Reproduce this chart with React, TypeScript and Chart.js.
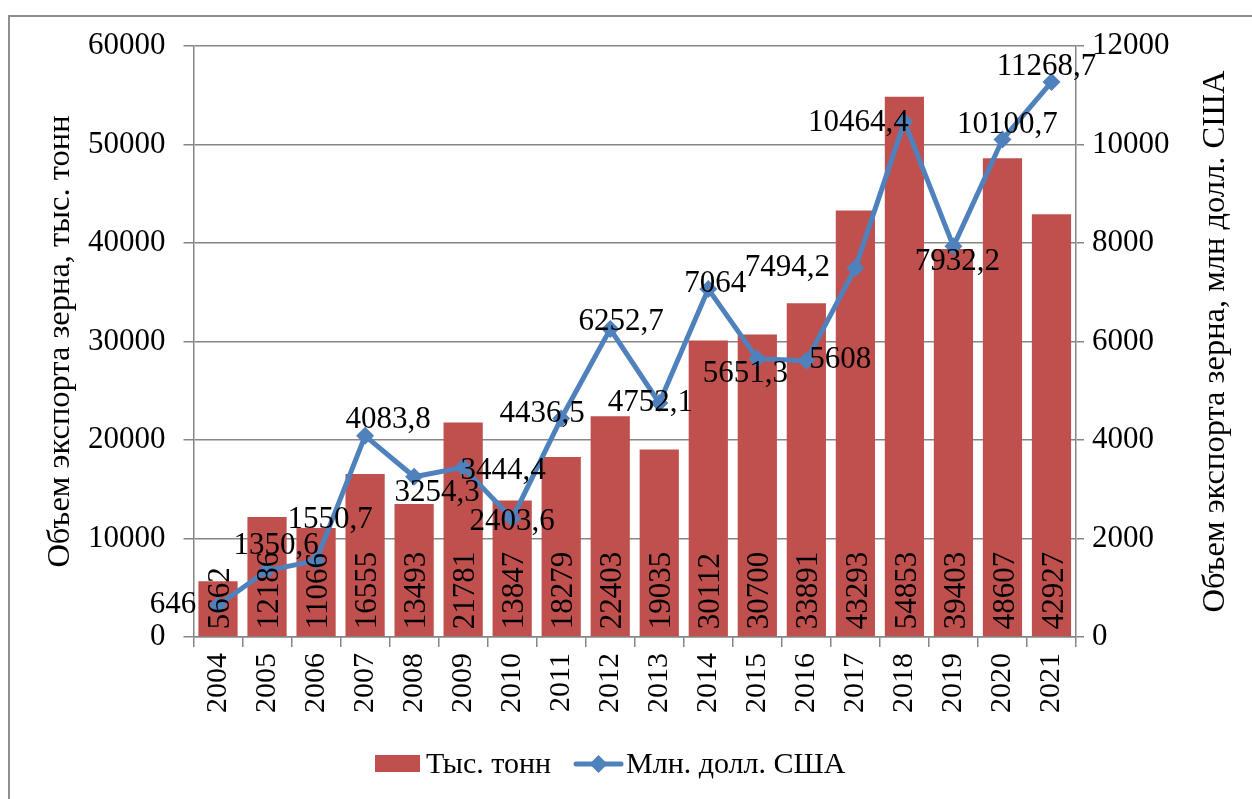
import React, { useEffect, useRef } from "react";
import { Chart, registerables } from "chart.js";

Chart.register(...registerables);

const years = ["2004", "2005", "2006", "2007", "2008", "2009", "2010", "2011", "2012", "2013", "2014", "2015", "2016", "2017", "2018", "2019", "2020", "2021"];
const tonnes = [5662, 12186, 11066, 16555, 13493, 21781, 13847, 18279, 22403, 19035, 30112, 30700, 33891, 43293, 54853, 39403, 48607, 42927];
const usd = [646, 1350.6, 1550.7, 4083.8, 3254.3, 3444.4, 2403.6, 4436.5, 6252.7, 4752.1, 7064, 5651.3, 5608, 7494.2, 10464.4, 7932.2, 10100.7, 11268.7];

const seriesNames = ["Тыс. тонн", "Млн. долл. США"];
const leftTitle = "Объем экспорта зерна, тыс. тонн";
const rightTitle = "Объем экспорта зерна, млн долл. США";

// label offsets (style only), relative to each line point
const lineLabelDx = [-45, 9, 14, 23, 23, 40, 0, -19, 11, -9, 7, -12, 34, -68, -46, 4, 5, -5];
const lineLabelDy = [0, -25, -41, -16, 16, 3, 3, -5, -7, 0, -5, 15, -1, 0, 1, 16, -15, -15];

const FONT = "'Liberation Serif', 'Times New Roman', serif";
const FS = 30;
const FS_TICK = 31;
const FS_LABEL = 31;
const FS_TITLE = 32.5;
const BAR_COLOR = "#C0504D";
const LINE_COLOR = "#4F81BD";
const GRID = "#868686";

const fmt = (v: number) => String(v).replace(".", ",");

const labelsPlugin = {
  id: "customLabels",
  afterDatasetsDraw(chart: any) {
    const ctx = chart.ctx;
    ctx.save();
    ctx.fillStyle = "#000";
    ctx.font = `${FS_LABEL}px ${FONT}`;
    const barMeta = chart.getDatasetMeta(0);
    barMeta.data.forEach((el: any, i: number) => {
      ctx.save();
      ctx.translate(el.x + 3, el.base - 7);
      ctx.rotate(-Math.PI / 2);
      ctx.textAlign = "left";
      ctx.textBaseline = "middle";
      ctx.fillText(String(tonnes[i]), 0, 0);
      ctx.restore();
    });
    const lineMeta = chart.getDatasetMeta(1);
    lineMeta.data.forEach((el: any, i: number) => {
      ctx.textAlign = "center";
      ctx.textBaseline = "middle";
      ctx.fillText(fmt(usd[i]), el.x + lineLabelDx[i], el.y + lineLabelDy[i]);
    });
    ctx.restore();
  },
  afterDraw(chart: any) {
    const ctx = chart.ctx;
    const area = chart.chartArea;
    const midY = (area.top + area.bottom) / 2;
    ctx.save();
    ctx.fillStyle = "#000";
    ctx.font = `${FS_TITLE}px ${FONT}`;
    ctx.textAlign = "center";
    ctx.textBaseline = "middle";
    ctx.save();
    ctx.translate(50, midY);
    ctx.rotate(-Math.PI / 2);
    ctx.fillText(leftTitle, 0, 0);
    ctx.restore();
    ctx.save();
    ctx.translate(1205, midY);
    ctx.rotate(-Math.PI / 2);
    ctx.fillText(rightTitle, 0, 0);
    ctx.restore();

    ctx.font = `${FS}px ${FONT}`;
    const ly = 747;
    ctx.fillStyle = BAR_COLOR;
    ctx.fillRect(365, 738, 45, 17);
    ctx.fillStyle = "#000";
    ctx.textAlign = "left";
    ctx.fillText(seriesNames[0], 416, ly + 1);

    ctx.strokeStyle = LINE_COLOR;
    ctx.lineWidth = 5;
    ctx.lineCap = "round";
    ctx.beginPath();
    ctx.moveTo(566, ly);
    ctx.lineTo(611, ly);
    ctx.stroke();
    ctx.fillStyle = LINE_COLOR;
    ctx.beginPath();
    const cx = 588.5;
    ctx.moveTo(cx, ly - 9);
    ctx.lineTo(cx + 9, ly);
    ctx.lineTo(cx, ly + 9);
    ctx.lineTo(cx - 9, ly);
    ctx.closePath();
    ctx.fill();
    ctx.fillStyle = "#000";
    ctx.fillText(seriesNames[1], 616, ly + 1);
    ctx.restore();
  },
};

export default function App() {
  const ref = useRef<HTMLCanvasElement | null>(null);

  useEffect(() => {
    document.body.style.overflow = "hidden";
    document.documentElement.style.overflow = "hidden";
    if (!ref.current) return;
    const chart = new Chart(ref.current, {
      type: "bar",
      data: {
        labels: years,
        datasets: [
          {
            type: "bar",
            label: seriesNames[0],
            data: tonnes,
            backgroundColor: BAR_COLOR,
            borderWidth: 0,
            yAxisID: "y",
            barPercentage: 0.8,
            categoryPercentage: 1,
            order: 2,
          } as any,
          {
            type: "line",
            label: seriesNames[1],
            data: usd,
            borderColor: LINE_COLOR,
            backgroundColor: LINE_COLOR,
            borderWidth: 5,
            pointStyle: "rectRot",
            pointRadius: 9,
            pointBorderWidth: 0,
            tension: 0,
            yAxisID: "y1",
            order: 1,
          } as any,
        ],
      },
      options: {
        responsive: false,
        animation: false,
        layout: { padding: { top: 29, left: 0, right: 0, bottom: 0 } },
        plugins: {
          legend: { display: false },
          tooltip: { enabled: false },
        },
        scales: {
          x: {
            offset: true,
            grid: { display: true, drawOnChartArea: false, offset: true, tickLength: 10, color: GRID, lineWidth: 1.5 },
            border: { display: true, color: GRID, width: 1.5 },
            ticks: {
              font: { family: FONT, size: FS },
              color: "#000",
              maxRotation: 90,
              minRotation: 90,
              padding: 6,
              autoSkip: false,
            },
            afterFit(scale: any) {
              scale.height = 162;
            },
          },
          y: {
            position: "left",
            min: 0,
            max: 60000,
            ticks: {
              stepSize: 10000,
              font: { family: FONT, size: FS_TICK, lineHeight: 0.6 },
              color: "#000",
              padding: 18,
              callback: (v: any) => String(v),
            },
            grid: { color: GRID, lineWidth: 1.5, tickLength: 10 },
            border: { display: true, color: GRID, width: 1.5 },
            afterFit(scale: any) {
              scale.width = 183.5;
            },
          },
          y1: {
            position: "right",
            min: 0,
            max: 12000,
            ticks: {
              stepSize: 2000,
              font: { family: FONT, size: FS_TICK, lineHeight: 0.6 },
              color: "#000",
              padding: 8,
              callback: (v: any) => String(v),
            },
            grid: { drawOnChartArea: false, color: GRID, lineWidth: 1.5, tickLength: 8 },
            border: { display: true, color: GRID, width: 1.5 },
            afterFit(scale: any) {
              scale.width = 176;
            },
          },
        },
      } as any,
      plugins: [labelsPlugin],
    });
    return () => chart.destroy();
  }, []);

  return (
    <div
      style={{
        position: "absolute",
        left: 8,
        top: 15,
        width: 1244,
        height: 784,
        borderLeft: "2px solid #8e8e8e",
        borderTop: "2px solid #8e8e8e",
        boxSizing: "border-box",
      }}
    >
      <canvas ref={ref} width={1242} height={782} style={{ display: "block" }} />
    </div>
  );
}
